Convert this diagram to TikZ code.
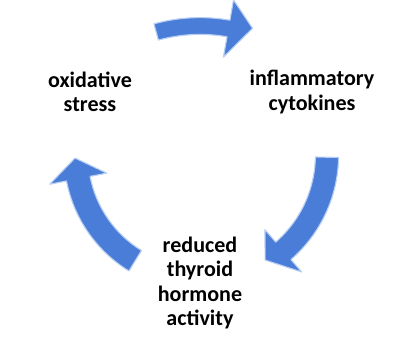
\documentclass[tikz,border=0pt]{standalone}
\usepackage{fontspec}
\setmainfont{Carlito}
\usepackage{xcolor}
\usepackage{tikz}
\definecolor{CycleBlue}{HTML}{4A7DD8}
\definecolor{CycleGlow}{HTML}{B8CFF3}
\tikzset{
  arrowbody/.style={fill=CycleBlue, draw=CycleGlow, line width=0.8pt, line join=round},
  cycletext/.style={align=center, font=\fontsize{15.7}{17.5}\selectfont\bfseries}
}
% curved block arrow: centre, radius, half body, half head, tail angle, head angle, tip angle, tip radius
\newcommand{\cyclearrow}[8]{%
  \begin{scope}[shift={(#1)}]
    \filldraw[arrowbody] (#5:{#2+#3}) arc[start angle=#5, end angle=#6, radius={#2+#3}]
      -- (#6:{#2+#4}) -- (#7:#8) -- (#6:{#2-#4}) -- (#6:{#2-#3})
      arc[start angle=#6, end angle=#5, radius={#2-#3}] -- cycle;
  \end{scope}}

\begin{document}
\begin{tikzpicture}
  \useasboundingbox (0,0) rectangle (10,8.675);
  \cyclearrow{5,3.925}{4.1}{0.21}{0.725}{105.5}{80}{72}{4.25}
  \cyclearrow{5,4.8}{3.175}{0.29}{0.7}{-1}{-49}{-58.2}{3.09}
  \cyclearrow{5,4.8}{3.1}{0.3}{0.725}{238.5}{191}{181.4}{3.125}
  \node[cycletext] (stress) at (2.25,6.375) {oxidative\\stress};
  \node[cycletext] (cytokines) at (7.8,6.375) {inflammatory\\cytokines};
  \node[cycletext] (thyroid) at (5,1.6) {reduced\\thyroid\\hormone\\activity};
\end{tikzpicture}
\end{document}
